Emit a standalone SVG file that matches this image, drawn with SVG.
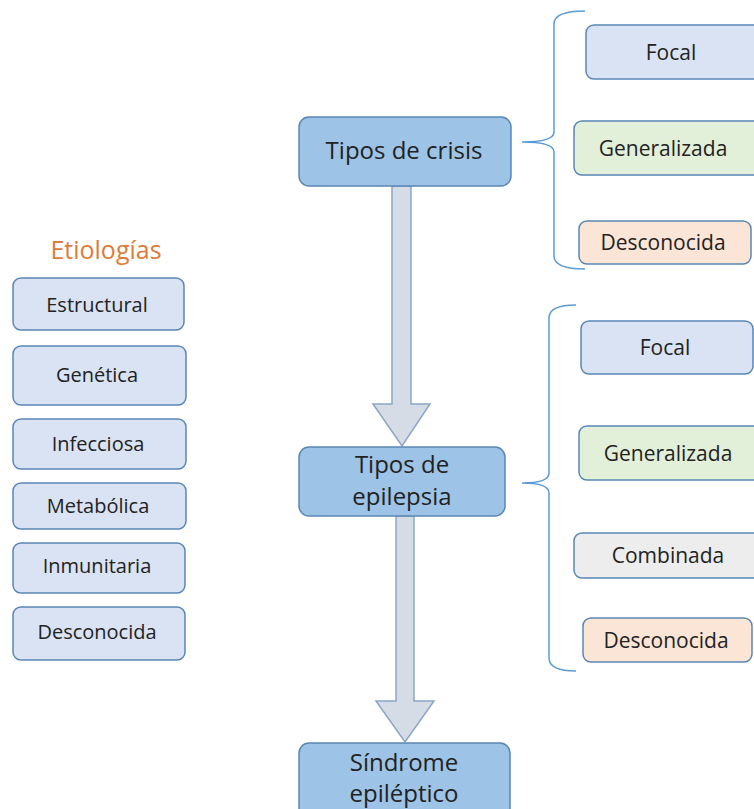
<svg xmlns="http://www.w3.org/2000/svg" width="754" height="809" viewBox="0 0 754 809">
<style>
.main{fill:#9DC3E6;stroke:#5A86B5;stroke-width:1.5}
.sb{stroke:#5A86B5;stroke-width:1.5}
.blue{fill:#DAE3F3}.green{fill:#E2F0D9}.orange{fill:#FBE5D6}.grey{fill:#EDEDED}
.arrow{fill:#D6DCE5;stroke:#8AA6C6;stroke-width:1.5}
.brace{fill:none;stroke:#5B9BD5;stroke-width:1.5}
text{font-family:"Open Sans","Noto Sans",sans-serif;fill:#222;text-anchor:middle}
.mt{font-size:24px}
.st{font-size:21px}
.lt{font-size:20px}
</style>
<g id="connectors">
<path class="arrow" d="M392,186 L411,186 L411,404 L430,404 L402,446 L373,404 L392,404 Z"/>
<path class="arrow" d="M396,516 L414,516 L414,701 L434,701 L405,742 L376,701 L396,701 Z"/>
<path class="brace" d="M585,11 Q554,11 554,24 L554,132 Q554,142 522,142 Q554,142 554,152 L554,256 Q554,269 585,269"/>
<path class="brace" d="M576,305 Q549,305 549,318 L549,473 Q549,483 522,483 Q549,483 549,493 L549,658 Q549,671 576,671"/>
</g>
<g id="n-crisis"><rect class="main" x="299" y="117" width="212" height="69" rx="10"/><text class="mt" x="404" y="159">Tipos de crisis</text></g>
<g id="n-epilepsia"><rect class="main" x="299" y="447" width="206" height="69" rx="10"/><text class="mt" x="402" y="473">Tipos de</text><text class="mt" x="402" y="505">epilepsia</text></g>
<g id="n-sindrome"><rect class="main" x="299" y="743" width="211" height="90" rx="10"/><text class="mt" x="404" y="771">Síndrome</text><text class="mt" x="404" y="802">epiléptico</text></g>
<g id="c-focal"><rect class="sb blue" x="586" y="25" width="178" height="54" rx="8"/><text class="st" x="671" y="60">Focal</text></g>
<g id="c-generalizada"><rect class="sb green" x="574" y="121" width="190" height="54" rx="8"/><text class="st" x="663" y="156">Generalizada</text></g>
<g id="c-desconocida"><rect class="sb orange" x="579" y="221" width="172" height="43" rx="8"/><text class="st" x="663" y="250">Desconocida</text></g>
<g id="e-focal"><rect class="sb blue" x="581" y="321" width="172" height="53" rx="8"/><text class="st" x="665" y="355">Focal</text></g>
<g id="e-generalizada"><rect class="sb green" x="579" y="426" width="185" height="54" rx="8"/><text class="st" x="668" y="461">Generalizada</text></g>
<g id="e-combinada"><rect class="sb grey" x="574" y="533" width="190" height="45" rx="8"/><text class="st" x="668" y="563">Combinada</text></g>
<g id="e-desconocida"><rect class="sb orange" x="583" y="618" width="169" height="44" rx="8"/><text class="st" x="666" y="648">Desconocida</text></g>
<text x="106" y="259" style="font-size:25px;fill:#E07B39">Etiologías</text>
<g id="t-estructural"><rect class="sb blue" x="13" y="278" width="171" height="52" rx="8"/><text class="lt" x="97" y="312">Estructural</text></g>
<g id="t-genetica"><rect class="sb blue" x="13" y="346" width="173" height="59" rx="8"/><text class="lt" x="97" y="382">Genética</text></g>
<g id="t-infecciosa"><rect class="sb blue" x="13" y="419" width="173" height="50" rx="8"/><text class="lt" x="98" y="451">Infecciosa</text></g>
<g id="t-metabolica"><rect class="sb blue" x="13" y="483" width="173" height="46" rx="8"/><text class="lt" x="98" y="513">Metabólica</text></g>
<g id="t-inmunitaria"><rect class="sb blue" x="13" y="543" width="172" height="50" rx="8"/><text class="lt" x="97" y="573">Inmunitaria</text></g>
<g id="t-desconocida"><rect class="sb blue" x="13" y="607" width="172" height="53" rx="8"/><text class="lt" x="97" y="639">Desconocida</text></g>
</svg>
